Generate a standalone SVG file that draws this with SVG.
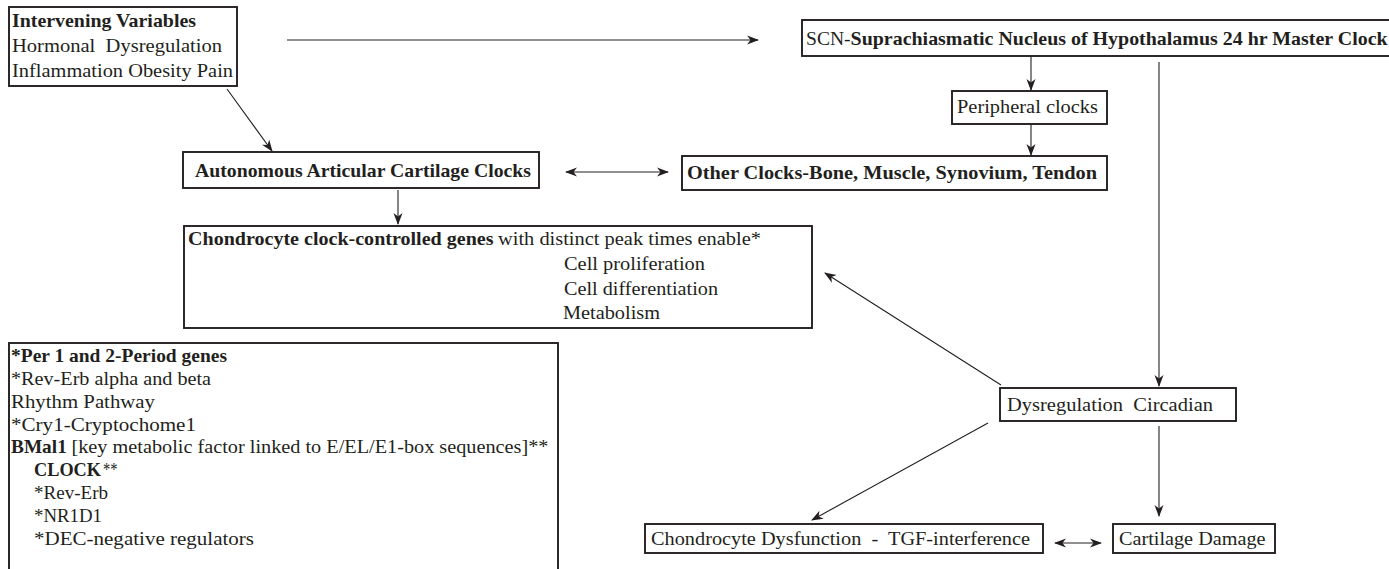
<svg xmlns="http://www.w3.org/2000/svg" width="1389" height="569" viewBox="0 0 1389 569">
<style>
.box{fill:#fff;stroke:#231f20;stroke-width:1.9}
.t{font-family:"Liberation Serif","Times New Roman",serif;font-size:19.5px;fill:#231f20}
.b{font-weight:bold}
.c{fill:none;stroke:#231f20;stroke-width:1.1}
</style>
<defs>
<marker id="ah" markerUnits="userSpaceOnUse" markerWidth="12" markerHeight="10" refX="11" refY="4.5" orient="auto-start-reverse" viewBox="0 0 12 9">
<path d="M0,0 L12,4.5 L0,9 L3.5,4.5 z" fill="#231f20"/>
</marker>
</defs>
<rect width="1389" height="569" fill="#fff"/>
<g id="connectors">
<line class="c" x1="287" y1="40" x2="758" y2="40" marker-end="url(#ah)"/>
<line class="c" x1="1031" y1="56" x2="1031" y2="90" marker-end="url(#ah)"/>
<line class="c" x1="1031" y1="124" x2="1031" y2="155" marker-end="url(#ah)"/>
<line class="c" x1="227" y1="89" x2="272" y2="151" marker-end="url(#ah)"/>
<line class="c" x1="566" y1="172" x2="668" y2="172" marker-start="url(#ah)" marker-end="url(#ah)"/>
<line class="c" x1="398" y1="190" x2="398" y2="224" marker-end="url(#ah)"/>
<line class="c" x1="1159" y1="62" x2="1159" y2="386" marker-end="url(#ah)"/>
<line class="c" x1="1001" y1="385" x2="825" y2="273" marker-end="url(#ah)"/>
<line class="c" x1="988" y1="423" x2="812" y2="520" marker-end="url(#ah)"/>
<line class="c" x1="1159" y1="426" x2="1159" y2="516" marker-end="url(#ah)"/>
<line class="c" x1="1055" y1="543" x2="1101" y2="543" marker-start="url(#ah)" marker-end="url(#ah)"/>
</g>
<g id="intervening">
<rect class="box" x="9" y="7" width="228" height="79"/>
<text class="t b" x="12" y="27" textLength="184" lengthAdjust="spacingAndGlyphs">Intervening Variables</text>
<text class="t" x="12" y="52" textLength="210" lengthAdjust="spacingAndGlyphs" xml:space="preserve">Hormonal  Dysregulation</text>
<text class="t" x="12" y="77" textLength="221" lengthAdjust="spacingAndGlyphs">Inflammation Obesity Pain</text>
</g>
<g id="scn">
<rect class="box" x="802" y="20" width="600" height="36"/>
<text class="t" x="806" y="45" textLength="44.6" lengthAdjust="spacingAndGlyphs">SCN-</text>
<text class="t b" x="850.6" y="45" textLength="537" lengthAdjust="spacingAndGlyphs">Suprachiasmatic Nucleus of Hypothalamus 24 hr Master Clock</text>
</g>
<g id="peripheral">
<rect class="box" x="952" y="91" width="155" height="33"/>
<text class="t" x="957" y="113" textLength="141" lengthAdjust="spacingAndGlyphs">Peripheral clocks</text>
</g>
<g id="other-clocks">
<rect class="box" x="682" y="156" width="425" height="34"/>
<text class="t b" x="687" y="179" textLength="410" lengthAdjust="spacingAndGlyphs">Other Clocks-Bone, Muscle, Synovium, Tendon</text>
</g>
<g id="autonomous">
<rect class="box" x="183" y="152" width="356" height="36"/>
<text class="t b" x="195" y="177" textLength="336" lengthAdjust="spacingAndGlyphs">Autonomous Articular Cartilage Clocks</text>
</g>
<g id="chondrocyte-genes">
<rect class="box" x="184" y="226" width="628" height="102"/>
<text class="t b" x="188" y="245" textLength="305.5" lengthAdjust="spacingAndGlyphs">Chondrocyte clock-controlled genes</text>
<text class="t" x="498" y="245" textLength="263" lengthAdjust="spacingAndGlyphs">with distinct peak times enable*</text>
<text class="t" x="564" y="270" textLength="141" lengthAdjust="spacingAndGlyphs">Cell proliferation</text>
<text class="t" x="564" y="295" textLength="154" lengthAdjust="spacingAndGlyphs">Cell differentiation</text>
<text class="t" x="563" y="319" textLength="97" lengthAdjust="spacingAndGlyphs">Metabolism</text>
</g>
<g id="genes-list">
<rect class="box" x="9" y="343" width="549" height="240"/>
<text class="t b" x="11" y="362" textLength="216" lengthAdjust="spacingAndGlyphs">*Per 1 and 2-Period genes</text>
<text class="t" x="11" y="385" textLength="200" lengthAdjust="spacingAndGlyphs">*Rev-Erb alpha and beta</text>
<text class="t" x="11" y="408" textLength="144" lengthAdjust="spacingAndGlyphs">Rhythm Pathway</text>
<text class="t" x="11" y="431" textLength="185" lengthAdjust="spacingAndGlyphs">*Cry1-Cryptochome1</text>
<text class="t b" x="11" y="453" textLength="55.8" lengthAdjust="spacingAndGlyphs">BMal1</text>
<text class="t" x="71.5" y="453" textLength="477" lengthAdjust="spacingAndGlyphs">[key metabolic factor linked to E/EL/E1-box sequences]**</text>
<text class="t b" x="34" y="476" textLength="67" lengthAdjust="spacingAndGlyphs">CLOCK</text>
<text class="t" x="103" y="476" textLength="14.5" lengthAdjust="spacingAndGlyphs">**</text>
<text class="t" x="34" y="499" textLength="74" lengthAdjust="spacingAndGlyphs">*Rev-Erb</text>
<text class="t" x="34" y="522" textLength="68" lengthAdjust="spacingAndGlyphs">*NR1D1</text>
<text class="t" x="34" y="545" textLength="220" lengthAdjust="spacingAndGlyphs">*DEC-negative regulators</text>
</g>
<g id="dysregulation">
<rect class="box" x="1000" y="388" width="236" height="33"/>
<text class="t" x="1007" y="411" textLength="206" lengthAdjust="spacingAndGlyphs" xml:space="preserve">Dysregulation  Circadian</text>
</g>
<g id="chondrocyte-dysfunction">
<rect class="box" x="645" y="524" width="398" height="29"/>
<text class="t" x="651" y="545" textLength="379" lengthAdjust="spacingAndGlyphs" xml:space="preserve">Chondrocyte Dysfunction  -  TGF-interference</text>
</g>
<g id="cartilage-damage">
<rect class="box" x="1113" y="524" width="162" height="29"/>
<text class="t" x="1119" y="545" textLength="146.5" lengthAdjust="spacingAndGlyphs">Cartilage Damage</text>
</g>
</svg>
